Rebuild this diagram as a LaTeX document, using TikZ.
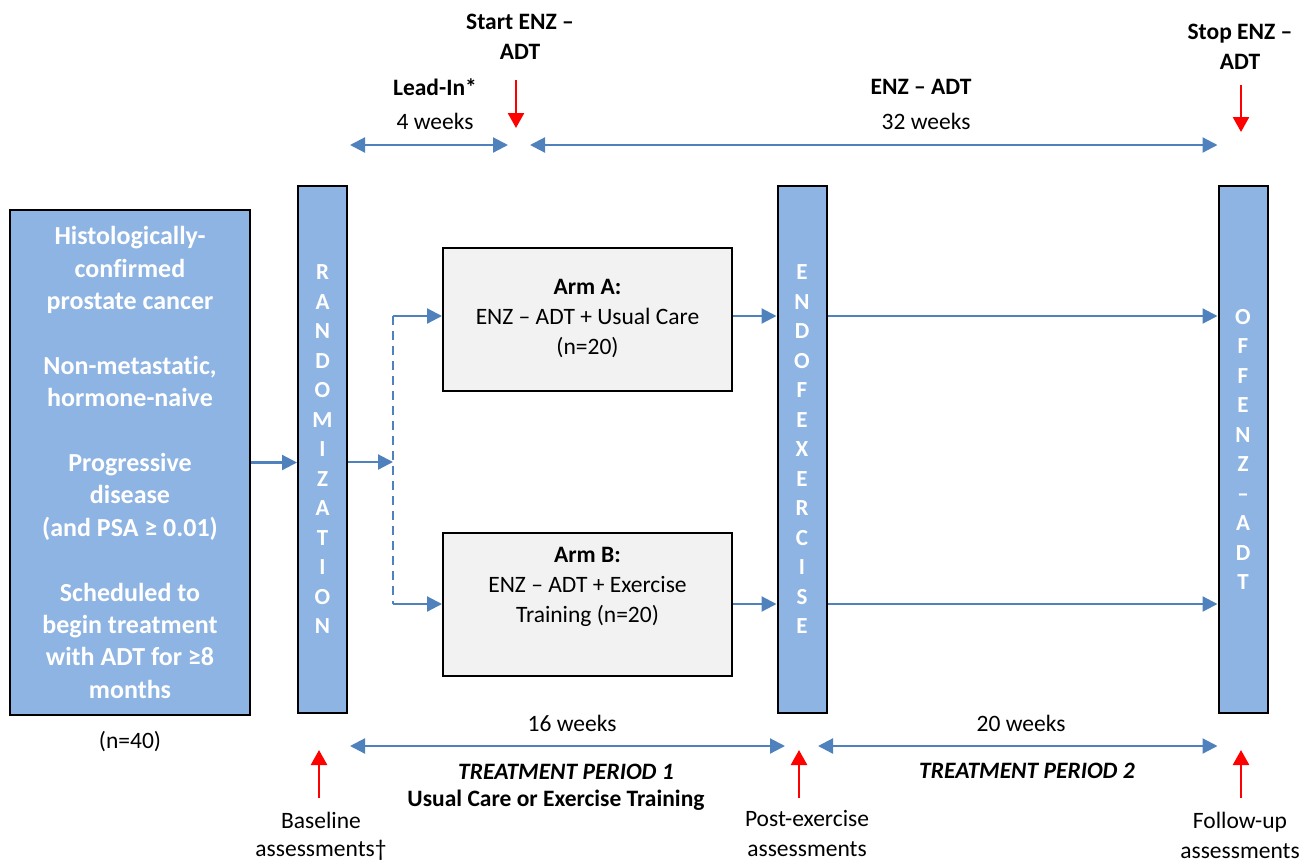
\documentclass[tikz,border=0pt]{standalone}
\usepackage{fontspec}
\setmainfont{Carlito}[Ligatures=NoCommon]
\usepackage{xcolor}
\usetikzlibrary{arrows.meta, positioning}
\definecolor{barblue}{HTML}{8EB4E3}
\definecolor{lineblue}{HTML}{4F81BD}
\definecolor{armgray}{HTML}{F2F2F2}
\tikzset{
  bar/.style={draw=black, line width=2pt, fill=barblue, text=white, align=center,
    font=\fontsize{23}{29.5}\selectfont\bfseries, minimum width=49pt, minimum height=527pt, inner sep=0pt},
  elig/.style={draw=black, line width=2pt, fill=barblue, text=white, align=center,
    font=\fontsize{26}{32.4}\selectfont\bfseries, minimum width=240pt, minimum height=505pt, inner sep=0pt},
  arm/.style={draw=black, line width=2pt, fill=armgray, align=center,
    font=\fontsize{23.5}{30}\selectfont, minimum width=289pt, minimum height=143pt, inner sep=0pt},
  lbl/.style={align=center, inner sep=0pt, font=\fontsize{23.5}{30}\selectfont},
  lblb/.style={lbl, font=\fontsize{23.5}{30}\selectfont\bfseries},
  lblbi/.style={lbl, font=\fontsize{23.5}{30}\selectfont\bfseries\itshape},
  flow/.style={lineblue, line width=2.2pt, -{Triangle[length=15pt, width=15pt]}},
  span/.style={lineblue, line width=2.2pt, {Triangle[length=15pt, width=15pt]}-{Triangle[length=15pt, width=15pt]}},
  redarr/.style={red, line width=2.5pt, -{Triangle[length=15pt, width=16pt]}}
}
\begin{document}
\begin{tikzpicture}[x=1pt, y=-1pt]
  \useasboundingbox (0,0) rectangle (1315,863);
  \node[elig] (elig) at (130,462.5) {Histologically-\\confirmed\\prostate cancer\\[32.4pt]Non-metastatic,\\hormone-naive\\[32.4pt]Progressive\\disease\\(and PSA ≥ 0.01)\\[32.4pt]Scheduled to\\begin treatment\\with ADT for ≥8\\months};
  \node[lbl] (n40) at (130,742) {(n=40)};
  \node[bar] (rand) at (322.5,449.5) {R\\A\\N\\D\\O\\M\\I\\Z\\A\\T\\I\\O\\N};
  \node[bar] (eoe) at (802,449.5) {E\\N\\D\\O\\F\\E\\X\\E\\R\\C\\I\\S\\E};
  \node[bar] (off) at (1243,449.5) {O\\F\\F\\E\\N\\Z\\–\\A\\D\\T};
  \node[arm] (armA) at (587.5,319) {\textbf{Arm A:}\\ENZ – ADT + Usual Care\\(n=20)};
  \node[arm] (armB) at (587.5,604.5) {\textbf{Arm B:}\\ENZ – ADT + Exercise\\Training (n=20)\\\strut};

  \coordinate (split) at (393,462);
  \coordinate (splitA) at (393,316);
  \coordinate (splitB) at (393,604);
  \draw[flow] (elig.east) -- (elig.east -| rand.west);
  \draw[flow] (rand.east |- split) -- (split);
  \draw[lineblue, line width=2.2pt, dash pattern=on 9pt off 6pt] (splitA) -- (splitB);
  \draw[flow] (splitA) -- (splitA -| armA.west);
  \draw[flow] (splitB) -- (splitB -| armB.west);
  \draw[flow] (armA.east |- splitA) -- (splitA -| eoe.west);
  \draw[flow] (armB.east |- splitB) -- (splitB -| eoe.west);
  \draw[flow] (eoe.east |- splitA) -- (splitA -| off.west);
  \draw[flow] (eoe.east |- splitB) -- (splitB -| off.west);

  \node[lblb] (start) at (520,37) {Start ENZ –\\ADT};
  \coordinate (startA) at (516,80);
  \coordinate (startB) at (516,128);
  \draw[redarr] (startA) -- (startB);
  \node[lblb] (leadin) at (435,87) {Lead-In*};
  \node[lbl] (wk4) at (435,121) {4 weeks};
  \coordinate (leadL) at (350,145);
  \coordinate (leadR) at (508,145);
  \draw[span] (leadL) -- (leadR);
  \node[lblb] (enz) at (921,87) {ENZ – ADT};
  \node[lbl] (wk32) at (926,121) {32 weeks};
  \coordinate (enzL) at (530,145);
  \draw[span] (enzL) -- (enzL -| off.west);
  \node[lblb] (stop) at (1240,47) {Stop ENZ –\\ADT};
  \coordinate (stopA) at (1241,85);
  \coordinate (stopB) at (1241,132);
  \draw[redarr] (stopA) -- (stopB);

  \node[lbl] (wk16) at (572,723) {16 weeks};
  \coordinate (p1L) at (350,746);
  \coordinate (p1R) at (785,746);
  \draw[span] (p1L) -- (p1R);
  \node[lbl] (wk20) at (1021,723) {20 weeks};
  \coordinate (p2L) at (818,746);
  \draw[span] (p2L) -- (p2L -| off.west);
  \node[lblbi] (tp1) at (566,772) {TREATMENT PERIOD 1};
  \node[lblb] (tp1sub) at (556,800) {Usual Care or Exercise Training};
  \node[lblbi] (tp2) at (1027,771) {TREATMENT PERIOD 2};

  \coordinate (baseA) at (319,798);
  \coordinate (baseB) at (319,750);
  \draw[redarr] (baseA) -- (baseB);
  \node[lbl, font=\fontsize{23.5}{28}\selectfont] (base) at (321,836) {Baseline\\assessments†};
  \coordinate (postA) at (799,798);
  \coordinate (postB) at (799,750);
  \draw[redarr] (postA) -- (postB);
  \node[lbl] (post) at (807,833) {Post-exercise\\assessments};
  \coordinate (fupA) at (1241,798);
  \coordinate (fupB) at (1241,750);
  \draw[redarr] (fupA) -- (fupB);
  \node[lbl] (fup) at (1240,835) {Follow-up\\assessments};
\end{tikzpicture}
\end{document}
